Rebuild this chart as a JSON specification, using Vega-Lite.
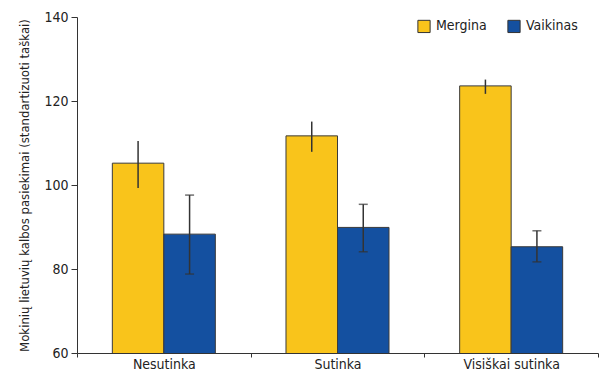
{
  "$schema": "https://vega.github.io/schema/vega-lite/v6.json",
  "autosize": {"type": "none"},
  "width": 521,
  "height": 336,
  "padding": {"left": 77, "top": 17, "right": 8, "bottom": 21},
  "background": "white",
  "config": {
    "view": {"stroke": null},
    "font": "DejaVu Sans Condensed",
    "axis": {"labelFont": "DejaVu Sans Condensed", "titleFont": "DejaVu Sans Condensed", "labelColor": "#222", "titleColor": "#222", "domainColor": "#333", "tickColor": "#333", "grid": false},
    "legend": {"labelFont": "DejaVu Sans Condensed"}
  },
  "data": {
    "values": [
      {"cat": "Nesutinka", "grp": "Mergina", "val": 105.2, "lo": 99.3, "hi": 110.5, "cap": false},
      {"cat": "Nesutinka", "grp": "Vaikinas", "val": 88.3, "lo": 78.8, "hi": 97.6, "cap": true},
      {"cat": "Sutinka", "grp": "Mergina", "val": 111.7, "lo": 107.9, "hi": 115.1, "cap": false},
      {"cat": "Sutinka", "grp": "Vaikinas", "val": 89.9, "lo": 84.1, "hi": 95.4, "cap": true},
      {"cat": "Visiškai sutinka", "grp": "Mergina", "val": 123.6, "lo": 121.7, "hi": 125.1, "cap": false},
      {"cat": "Visiškai sutinka", "grp": "Vaikinas", "val": 85.3, "lo": 81.7, "hi": 89.1, "cap": true}
    ]
  },
  "encoding": {
    "x": {
      "field": "cat", "type": "nominal", "sort": null,
      "scale": {"paddingInner": 0, "paddingOuter": 0},
      "axis": {"title": null, "labelAngle": 0, "labelFontSize": 14, "labelPadding": 0, "tickBand": "extent", "tickSize": 4, "domainWidth": 1, "zindex": 1}
    },
    "xOffset": {"field": "grp", "type": "nominal", "scale": {"paddingInner": 0, "paddingOuter": 0.686}}
  },
  "layer": [
    {
      "mark": {"type": "bar", "stroke": "#3a3a3a", "strokeWidth": 1, "clip": true},
      "encoding": {
        "y": {
          "field": "val", "type": "quantitative",
          "scale": {"domain": [60, 140], "nice": false, "zero": false},
          "axis": {"values": [60, 80, 100, 120, 140], "title": "Mokinių lietuvių kalbos pasiekimai (standartizuoti taškai)", "titleFontSize": 13, "titleFontWeight": "normal", "titlePadding": 12, "labelFontSize": 14, "tickSize": 6, "labelPadding": 3, "zindex": 1}
        },
        "color": {
          "field": "grp", "type": "nominal",
          "scale": {"domain": ["Mergina", "Vaikinas"], "range": ["#F9C41B", "#1450A0"]},
          "legend": {"title": null, "orient": "none", "legendX": 340, "legendY": 2, "direction": "horizontal", "symbolType": "square", "symbolSize": 150, "symbolStrokeColor": "#333", "symbolStrokeWidth": 1, "labelFontSize": 14, "labelColor": "#222", "columnPadding": 18, "labelOffset": 5}
        }
      }
    },
    {
      "mark": {"type": "rule", "color": "#333", "strokeWidth": 1.5},
      "encoding": {
        "y": {"field": "lo", "type": "quantitative"},
        "y2": {"field": "hi"}
      }
    },
    {
      "transform": [{"filter": "datum.cap"}],
      "mark": {"type": "tick", "color": "#333", "orient": "horizontal", "size": 9, "thickness": 1.5},
      "encoding": {"y": {"field": "lo", "type": "quantitative"}}
    },
    {
      "transform": [{"filter": "datum.cap"}],
      "mark": {"type": "tick", "color": "#333", "orient": "horizontal", "size": 9, "thickness": 1.5},
      "encoding": {"y": {"field": "hi", "type": "quantitative"}}
    }
  ]
}
